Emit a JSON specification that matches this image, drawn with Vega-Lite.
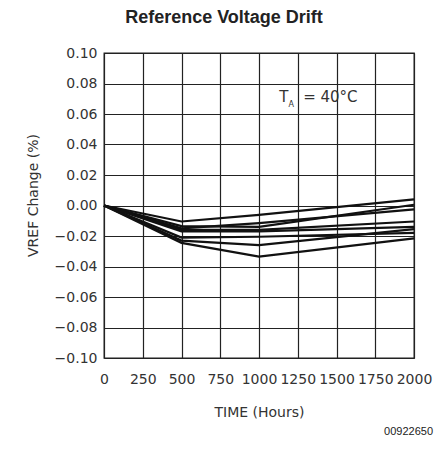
{
  "$schema": "https://vega.github.io/schema/vega-lite/v6.json",
  "width": 310,
  "height": 305,
  "autosize": {"type": "none"},
  "padding": {"left": 104, "top": 53, "right": 23, "bottom": 97},
  "background": "white",
  "title": {
    "text": "Reference Voltage Drift",
    "font": "Liberation Sans",
    "fontSize": 18,
    "fontWeight": "bold",
    "color": "#222",
    "dx": -35,
    "offset": 19
  },
  "config": {
    "view": {"stroke": "#222", "strokeWidth": 1.3},
    "axis": {
      "grid": true,
      "gridColor": "#222",
      "gridOpacity": 1,
      "gridWidth": 1.2,
      "ticks": false,
      "domain": false,
      "labelOverlap": false,
      "labelFlush": false,
      "labelBound": false,
      "labelFont": "DejaVu Sans",
      "labelFontSize": 14,
      "labelColor": "#333",
      "titleFont": "DejaVu Sans",
      "titleFontSize": 14,
      "titleFontWeight": "normal",
      "titleColor": "#333"
    }
  },
  "layer": [
    {
      "data": {
        "values": [
          {"series": "s1", "hours": 0, "change": 0},
          {"series": "s1", "hours": 500, "change": -0.0105},
          {"series": "s1", "hours": 1000, "change": -0.0062},
          {"series": "s1", "hours": 2000, "change": 0.004},
          {"series": "s2", "hours": 0, "change": 0},
          {"series": "s2", "hours": 500, "change": -0.0135},
          {"series": "s2", "hours": 1000, "change": -0.014},
          {"series": "s2", "hours": 2000, "change": 0.0005},
          {"series": "s3", "hours": 0, "change": 0},
          {"series": "s3", "hours": 500, "change": -0.015},
          {"series": "s3", "hours": 1000, "change": -0.0115},
          {"series": "s3", "hours": 2000, "change": -0.0025},
          {"series": "s4", "hours": 0, "change": 0},
          {"series": "s4", "hours": 500, "change": -0.016},
          {"series": "s4", "hours": 1000, "change": -0.016},
          {"series": "s4", "hours": 2000, "change": -0.0105},
          {"series": "s5", "hours": 0, "change": 0},
          {"series": "s5", "hours": 500, "change": -0.017},
          {"series": "s5", "hours": 1000, "change": -0.017},
          {"series": "s5", "hours": 2000, "change": -0.014},
          {"series": "s6", "hours": 0, "change": 0},
          {"series": "s6", "hours": 500, "change": -0.021},
          {"series": "s6", "hours": 1000, "change": -0.0205},
          {"series": "s6", "hours": 2000, "change": -0.018},
          {"series": "s7", "hours": 0, "change": 0},
          {"series": "s7", "hours": 500, "change": -0.023},
          {"series": "s7", "hours": 1000, "change": -0.026},
          {"series": "s7", "hours": 2000, "change": -0.0155},
          {"series": "s8", "hours": 0, "change": 0},
          {"series": "s8", "hours": 500, "change": -0.0245},
          {"series": "s8", "hours": 1000, "change": -0.0335},
          {"series": "s8", "hours": 2000, "change": -0.0215}
        ]
      },
      "mark": {"type": "line", "color": "#111", "strokeWidth": 2.2},
      "encoding": {
        "x": {
          "field": "hours",
          "type": "quantitative",
          "scale": {"domain": [0, 2000], "nice": false, "zero": false},
          "axis": {
            "values": [0, 250, 500, 750, 1000, 1250, 1500, 1750, 2000],
            "format": "d",
            "labelPadding": 14,
            "title": "TIME (Hours)",
            "titlePadding": 19
          }
        },
        "y": {
          "field": "change",
          "type": "quantitative",
          "scale": {"domain": [-0.1, 0.1], "nice": false, "zero": false},
          "axis": {
            "values": [-0.1, -0.08, -0.06, -0.04, -0.02, 0, 0.02, 0.04, 0.06, 0.08, 0.1],
            "format": ".2f",
            "labelPadding": 7,
            "title": "VREF Change (%)",
            "titlePadding": 14,
            "titleY": 142
          }
        },
        "detail": {"field": "series"}
      }
    },
    {
      "data": {"values": [{"label": "T"}]},
      "mark": {"type": "text", "align": "left", "baseline": "middle", "font": "DejaVu Sans", "fontSize": 15, "color": "#333"},
      "encoding": {
        "x": {"datum": 1130, "type": "quantitative", "axis": {"values": [0, 250, 500, 750, 1000, 1250, 1500, 1750, 2000], "format": "d", "labelPadding": 14, "title": "TIME (Hours)", "titlePadding": 19}},
        "y": {"datum": 0.071, "type": "quantitative", "axis": {"values": [-0.1, -0.08, -0.06, -0.04, -0.02, 0, 0.02, 0.04, 0.06, 0.08, 0.1], "format": ".2f", "labelPadding": 7, "title": "VREF Change (%)", "titlePadding": 14, "titleY": 142}},
        "text": {"field": "label"}
      }
    },
    {
      "data": {"values": [{"label": "A"}]},
      "mark": {"type": "text", "align": "left", "baseline": "middle", "font": "DejaVu Sans", "fontSize": 8, "color": "#333"},
      "encoding": {
        "x": {"datum": 1190, "type": "quantitative", "axis": {"values": [0, 250, 500, 750, 1000, 1250, 1500, 1750, 2000], "format": "d", "labelPadding": 14, "title": "TIME (Hours)", "titlePadding": 19}},
        "y": {"datum": 0.066, "type": "quantitative", "axis": {"values": [-0.1, -0.08, -0.06, -0.04, -0.02, 0, 0.02, 0.04, 0.06, 0.08, 0.1], "format": ".2f", "labelPadding": 7, "title": "VREF Change (%)", "titlePadding": 14, "titleY": 142}},
        "text": {"field": "label"}
      }
    },
    {
      "data": {"values": [{"label": "=  40°C"}]},
      "mark": {"type": "text", "align": "left", "baseline": "middle", "font": "DejaVu Sans", "fontSize": 15, "color": "#333"},
      "encoding": {
        "x": {"datum": 1285, "type": "quantitative", "axis": {"values": [0, 250, 500, 750, 1000, 1250, 1500, 1750, 2000], "format": "d", "labelPadding": 14, "title": "TIME (Hours)", "titlePadding": 19}},
        "y": {"datum": 0.071, "type": "quantitative", "axis": {"values": [-0.1, -0.08, -0.06, -0.04, -0.02, 0, 0.02, 0.04, 0.06, 0.08, 0.1], "format": ".2f", "labelPadding": 7, "title": "VREF Change (%)", "titlePadding": 14, "titleY": 142}},
        "text": {"field": "label"}
      }
    },
    {
      "data": {"values": [{"label": "00922650"}]},
      "mark": {"type": "text", "align": "right", "baseline": "middle", "font": "Liberation Sans", "fontSize": 11, "color": "#222"},
      "encoding": {
        "x": {"datum": 2123, "type": "quantitative", "axis": {"values": [0, 250, 500, 750, 1000, 1250, 1500, 1750, 2000], "format": "d", "labelPadding": 14, "title": "TIME (Hours)", "titlePadding": 19}},
        "y": {"datum": -0.1485, "type": "quantitative", "axis": {"values": [-0.1, -0.08, -0.06, -0.04, -0.02, 0, 0.02, 0.04, 0.06, 0.08, 0.1], "format": ".2f", "labelPadding": 7, "title": "VREF Change (%)", "titlePadding": 14, "titleY": 142}},
        "text": {"field": "label"}
      }
    }
  ]
}
